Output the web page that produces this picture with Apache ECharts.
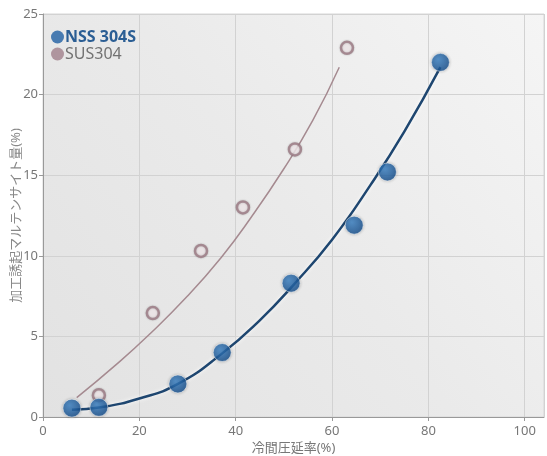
<!DOCTYPE html>
<html>
<head>
<meta charset="utf-8">
<script src="https://cdn.jsdelivr.net/npm/echarts@6/dist/echarts.min.js"></script>
<style>
  html, body { margin: 0; padding: 0; background: #fff; }
  #chart { width: 547px; height: 456px; }
</style>
</head>
<body>
<div id="chart"></div>
<script>
// measured points [冷間圧延率, マルテンサイト量]
var nssPoints = [[6.0, 0.55], [11.6, 0.6], [28.0, 2.05], [37.2, 4.0], [51.5, 8.3], [64.6, 11.9], [71.5, 15.2], [82.5, 22.0]];
var susPoints = [[11.6, 1.35], [22.8, 6.45], [32.8, 10.3], [41.5, 13.0], [52.3, 16.6], [63.1, 22.9]];
// trend curves
var nssCurve = [[6, 0.45], [12, 0.6], [20, 1.15], [28, 2.05], [37, 3.9], [45, 6.0], [52, 8.2], [60, 11.0], [68, 14.4], [75, 17.7], [82.5, 21.7]];
var susCurve = [[7, 1.2], [15, 3.2], [22, 5.1], [30, 7.5], [37, 9.9], [43, 12.3], [50, 15.4], [56, 18.4], [61.5, 21.7]];
var xTicks = [0, 20, 40, 60, 80, 100];
var yTicks = [0, 5, 10, 15, 20, 25];

var font = '"Noto Sans", "Noto Sans CJK JP", sans-serif';
var chart = echarts.init(document.getElementById('chart'));

var blueBall = {
    type: 'radial', x: 0.38, y: 0.35, r: 0.7,
    colorStops: [{offset: 0, color: '#3a82c6'}, {offset: 1, color: '#134c8b'}]
};

chart.setOption({
    backgroundColor: '#fff',
    animation: false,
    textStyle: { fontFamily: font },
    grid: {
        left: 43, right: 3, top: 14, bottom: 39,
        outerBoundsMode: 'none',
        containLabel: false,
        show: true,
        borderWidth: 1,
        borderColor: '#d6d6d6',
        backgroundColor: {
            type: 'linear', x: 0, y: 1, x2: 1, y2: 0,
            colorStops: [{offset: 0, color: '#e2e2e2'}, {offset: 0.5, color: '#eaeaea'}, {offset: 1, color: '#f5f5f5'}]
        }
    },
    legend: {
        orient: 'vertical',
        left: 51, top: 29,
        padding: 0,
        itemGap: 1,
        itemWidth: 13, itemHeight: 13,
        icon: 'circle',
        data: [
            { name: 'NSS 304S', itemStyle: { color: '#1f5fa3', borderWidth: 0 },
              textStyle: { color: '#2b5e94', fontWeight: 'bold', fontSize: 16, lineHeight: 14 } },
            { name: 'SUS304', itemStyle: { color: '#a07f8b', borderWidth: 0 },
              textStyle: { color: '#727272', fontSize: 16, lineHeight: 14 } }
        ],
        textStyle: { fontFamily: font, padding: [0, 0, 0, -4] }
    },
    xAxis: {
        type: 'value', min: 0, max: 104, interval: 20,
        name: '冷間圧延率(%)', nameLocation: 'middle', nameGap: 25,
        nameMoveOverlap: false,
        nameTextStyle: { color: '#777', fontSize: 13 },
        axisLine: { show: true, lineStyle: { color: '#999' } },
        axisTick: { show: true, length: 4, lineStyle: { color: '#999' } },
        axisLabel: { color: '#777', fontSize: 13, margin: 8, showMaxLabel: false,
            formatter: function (v) { return xTicks.indexOf(v) >= 0 ? String(v) : ''; } },
        splitLine: { show: true, lineStyle: { color: '#d2d2d2', width: 1 } }
    },
    yAxis: {
        type: 'value', min: 0, max: 25, interval: 5,
        name: '加工誘起マルテンサイト量(%)', nameLocation: 'middle', nameGap: 20, nameRotate: 90,
        nameMoveOverlap: false,
        nameTextStyle: { color: '#888', fontSize: 13 },
        axisLine: { show: true, lineStyle: { color: '#999' } },
        axisTick: { show: true, length: 4, lineStyle: { color: '#999' } },
        axisLabel: { color: '#777', fontSize: 13, margin: 5,
            formatter: function (v) { return yTicks.indexOf(v) >= 0 ? String(v) : ''; } },
        splitLine: { show: true, lineStyle: { color: '#d2d2d2', width: 1 } }
    },
    series: [
        {
            name: 'susCurve', type: 'line', data: susCurve, smooth: true,
            showSymbol: false, silent: true,
            lineStyle: { color: '#a58a90', width: 1.5 },
            z: 2
        },
        {
            name: 'nssCurve', type: 'line', data: nssCurve, smooth: true,
            showSymbol: false, silent: true,
            lineStyle: { color: '#1e4670', width: 2.5, shadowColor: 'rgba(255,255,255,0.9)', shadowBlur: 4 },
            z: 2
        },
        {
            name: 'SUS304', type: 'scatter', data: susPoints,
            symbol: 'circle', symbolSize: 12,
            itemStyle: { color: '#f6eef0', borderColor: '#9c7a84', borderWidth: 2.5,
                shadowColor: 'rgba(0,0,0,0.25)', shadowBlur: 2 },
            z: 4
        },
        {
            name: 'NSS 304S', type: 'scatter', data: nssPoints,
            symbol: 'circle', symbolSize: 18,
            itemStyle: { color: blueBall, borderColor: 'rgba(255,255,255,0.6)', borderWidth: 1,
                shadowColor: 'rgba(0,0,0,0.3)', shadowBlur: 3 },
            z: 5
        }
    ]
});
</script>
</body>
</html>
